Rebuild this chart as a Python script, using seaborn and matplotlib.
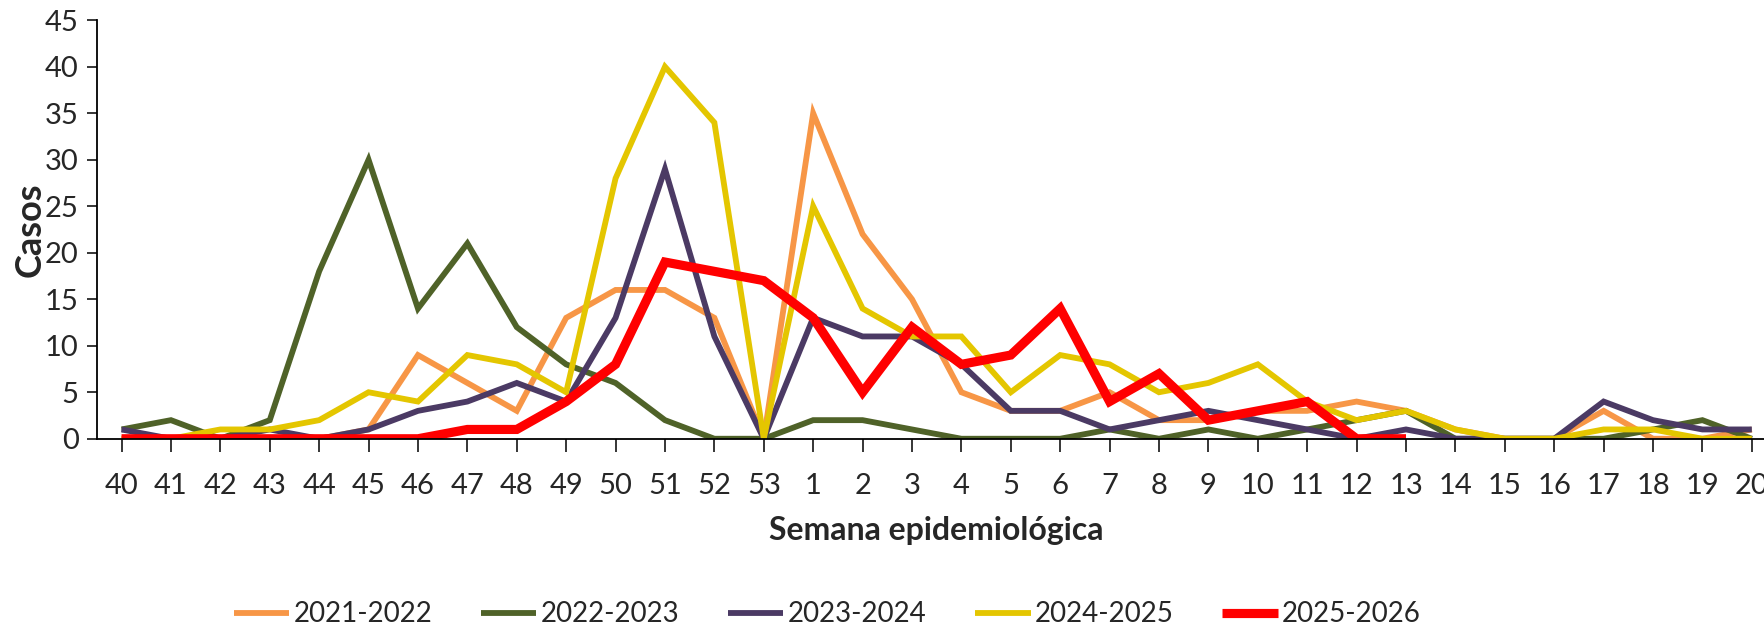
import pandas as pd
import matplotlib
matplotlib.use("Agg")
import matplotlib.pyplot as plt
import seaborn as sns

weeks = ['40', '41', '42', '43', '44', '45', '46', '47', '48', '49', '50', '51', '52', '53',
         '1', '2', '3', '4', '5', '6', '7', '8', '9', '10', '11', '12', '13', '14', '15', '16',
         '17', '18', '19', '20']

s2021_2022 = [0, 0, 0, 0, 0, 1, 9, 6, 3, 13, 16, 16, 13, 0,
              35, 22, 15, 5, 3, 3, 5, 2, 2, 3, 3, 4, 3, 1, 0, 0, 3, 0, 0, 1]
s2022_2023 = [1, 2, 0, 2, 18, 30, 14, 21, 12, 8, 6, 2, 0, 0,
              2, 2, 1, 0, 0, 0, 1, 0, 1, 0, 1, 2, 3, 0, 0, 0, 0, 1, 2, 0]
s2023_2024 = [1, 0, 0, 1, 0, 1, 3, 4, 6, 4, 13, 29, 11, 0,
              13, 11, 11, 8, 3, 3, 1, 2, 3, 2, 1, 0, 1, 0, 0, 0, 4, 2, 1, 1]
s2024_2025 = [0, 0, 1, 1, 2, 5, 4, 9, 8, 5, 28, 40, 34, 0,
              25, 14, 11, 11, 5, 9, 8, 5, 6, 8, 4, 2, 3, 1, 0, 0, 1, 1, 0, 0]
s2025_2026 = [0, 0, 0, 0, 0, 0, 0, 1, 1, 4, 8, 19, 18, 17,
              13, 5, 12, 8, 9, 14, 4, 7, 2, 3, 4, 0, 0]

seasons = ['2021-2022', '2022-2023', '2023-2024', '2024-2025', '2025-2026']
series = [s2021_2022, s2022_2023, s2023_2024, s2024_2025, s2025_2026]
colors = ['#F79646', '#4F6228', '#4B3A64', '#E4C600', '#FF0000']
widths = [4.2, 4.2, 4.2, 4.2, 6.6]

rows = []
for season, vals in zip(seasons, series):
    for i, v in enumerate(vals):
        rows.append({'pos': i, 'Casos': v, 'Temporada': season})
df = pd.DataFrame(rows)

sns.set_style('white')
plt.rcParams['font.family'] = ['Lato', 'DejaVu Sans']

fig = plt.figure(figsize=(17.64, 6.25), dpi=100)
ax = fig.add_axes([0.0549, 0.298, 0.9522, 0.6696])

for season, col, lw in zip(seasons, colors, widths):
    sns.lineplot(data=df[df['Temporada'] == season], x='pos', y='Casos',
                 color=col, linewidth=lw, label=season, ax=ax,
                 solid_joinstyle='miter', solid_capstyle='butt')

ax.set_xlim(-0.5, len(weeks) - 0.5)
ax.set_ylim(0, 45)
ax.set_xticks(range(len(weeks)))
ax.set_xticklabels(weeks)
ax.set_yticks(range(0, 46, 5))
ax.tick_params(axis='x', labelsize=21, length=9, width=1.3, pad=16, direction='out', bottom=True)
ax.tick_params(axis='y', labelsize=21, length=7, width=1.3, pad=6, direction='out', left=True)
for side in ['top', 'right']:
    ax.spines[side].set_visible(False)
for side in ['left', 'bottom']:
    ax.spines[side].set_color('black')
    ax.spines[side].set_linewidth(1.3)

ax.set_xlabel('Semana epidemiológica', fontsize=23, fontweight='bold', labelpad=12)
ax.set_ylabel('Casos', fontsize=26, fontweight='bold', labelpad=-1)

ax.get_legend().remove()
handles, labels = ax.get_legend_handles_labels()
fig.legend(handles, labels, loc='center', bbox_to_anchor=(0.469, 0.017), ncol=5,
           frameon=False, fontsize=20, handlelength=2.0, handletextpad=0.15,
           columnspacing=1.75)

fig.savefig('out.png', dpi=100)
